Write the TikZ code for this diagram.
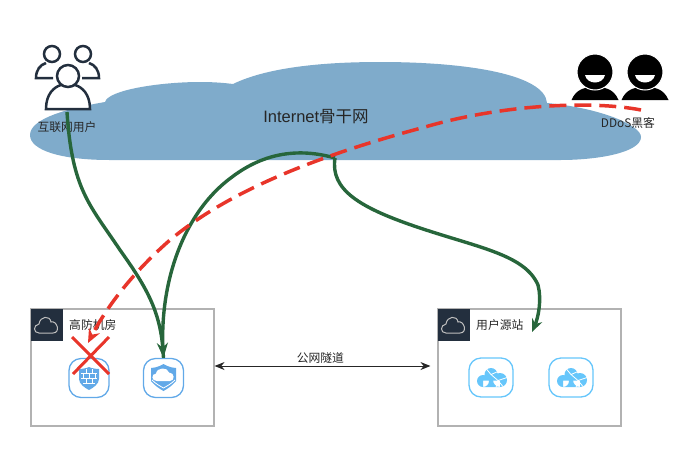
\documentclass[tikz,border=0pt]{standalone}
\usepackage{fontspec}
\setmainfont{Liberation Sans}
\newfontfamily\cjk{Noto Sans CJK SC}
\usetikzlibrary{arrows.meta}
\definecolor{cloudblue}{HTML}{7FABCB}
\definecolor{darknavy}{HTML}{232F3E}
\definecolor{pathgreen}{HTML}{27663B}
\definecolor{attackred}{HTML}{E8352A}
\definecolor{shieldblue}{HTML}{62A9E8}
\definecolor{skyblue}{HTML}{66C6FB}
\tikzset{
    labeltext/.style={font=\fontsize{11.8}{13}\selectfont\cjk, text=black!85, inner sep=0pt},
    areabox/.style={draw=black!30, line width=1.1pt, minimum width=183pt, minimum height=117pt, inner sep=0pt},
    headbox/.style={fill=darknavy, minimum size=32pt, inner sep=0pt},
    iconbox/.style={draw, line width=1.3pt, rounded corners=12pt, minimum width=40pt, minimum height=39pt, inner sep=0pt},
    greenpath/.style={draw=pathgreen, line width=3.4pt},
    redpath/.style={draw=attackred, line width=3.5pt, dash pattern=on 17pt off 8pt},
    outlinecloud/.pic={
        \draw[white!75!black, line width=1pt] (-8,8) .. controls (-14,8) and (-14,0) .. (-8,-1)
            .. controls (-7,-9) and (3,-10) .. (4,-3) .. controls (10,-5) and (14,8) .. (6,8) -- cycle;
    },
    backuser/.pic={
        \draw[darknavy, line width=2.5pt] (0,0) circle (8);
        \draw[darknavy, line width=2.5pt] (#1,24) -- (-16*#1,24) .. controls (-16*#1,16) and (-12*#1,11) .. (-6*#1,9);
    },
    smiler/.pic={
        \fill[black] (-23.5,28) .. controls (-19,17) and (-10,15) .. (0,15) .. controls (10,15) and (19,17) .. (23.5,28) -- cycle;
        \draw[white, fill=black, line width=1pt] (0,0) circle (18);
        \fill[white] (-10,3) -- (10,3) .. controls (8,13) and (-8,13) .. (-10,3) -- cycle;
    },
    bluecloud/.pic={
        \fill[skyblue] (-8,3.5) circle (6) (0,-3) circle (6.5) (9,2.5) circle (7) (-8,3) rectangle (9,9.5);
        \draw[white, line width=0.8pt] (-5,-9) -- (0,-3) -- (7,-6) (0,-3) -- (7,3) -- (16,0) (7,3) -- (5,10) (7,3) -- (12,9);
    },
}
\begin{document}
\begin{tikzpicture}[x=1pt, y=-1pt]
    \useasboundingbox (0,0) rectangle (685,456);
    % backbone cloud
    \fill[cloudblue] (110,160) .. controls (60,160) and (30,150) .. (30,135) .. controls (30,118) and (70,108) .. (105,102)
        .. controls (108,90) and (160,82) .. (200,82) .. controls (215,82) and (225,83) .. (233,84)
        .. controls (270,66) and (330,62) .. (380,62) .. controls (470,62) and (545,75) .. (547,103)
        .. controls (600,108) and (641,125) .. (641,137) .. controls (641,152) and (600,160) .. (560,160) -- cycle;
    \node[font=\fontsize{16.5}{18}\selectfont, text=black!85, inner sep=0pt] (backbone) at (316,117) {Internet{\cjk 骨干网}};
    \node[labeltext] (userlabel) at (67,127) {互联网用户};
    \node[labeltext] (hackerlabel) at (628,123) {DDoS黑客};
    % people
    \pic at (52,54) {backuser=1};
    \pic at (83,54) {backuser=-1};
    \draw[darknavy, line width=2.5pt, fill=white] (46,109) .. controls (46,94) and (54,87) .. (61,85) -- (75,85)
        .. controls (82,87) and (90,94) .. (90,109) -- cycle;
    \draw[darknavy, line width=2.5pt, fill=white] (68,76) circle (11);
    \pic at (595,72) {smiler};
    \pic at (645,72) {smiler};
    % rooms
    \node[areabox] (gfroom) at (122.5,367.5) {};
    \node[areabox] (srcroom) at (529.5,367.5) {};
    \node[headbox] (gfhead) at (47,325) {};
    \node[headbox] (srchead) at (454,325) {};
    \pic at (gfhead) {outlinecloud};
    \pic at (srchead) {outlinecloud};
    \node[labeltext, right=0pt] (gflabel) at (69,325) {高防机房};
    \node[labeltext, right=0pt] (srclabel) at (476,325) {用户源站};
    \draw[{Stealth[length=10pt, width=8pt]}-{Stealth[length=10pt, width=8pt]}, line width=1pt, black!85, shorten >=7pt] (gfroom.east) ++(0,-1.5)
        -- node[labeltext, above=2pt, pos=0.475] (tunnel) {公网隧道} (srcroom.west |- 0,366);
    % icons
    \node[iconbox, draw=shieldblue] (firewall) at (89,378) {};
    \node[iconbox, draw=shieldblue] (shield) at (163.5,378) {};
    \node[iconbox, draw=skyblue, minimum width=44pt] (srcone) at (491,377.5) {};
    \node[iconbox, draw=skyblue, minimum width=44pt] (srctwo) at (571,377.5) {};
    \fill[shieldblue] (79,369) .. controls (85,369) and (89,367) .. (89,367) .. controls (89,367) and (93,369) .. (99,369)
        -- (99,379) .. controls (99,384) and (93,388) .. (89,390) .. controls (85,388) and (79,384) .. (79,379) -- cycle;
    \draw[white, line width=0.8pt] (81,373) -- (97,373) (81,378) -- (97,378) (83,383) -- (95,383)
        (86,369) -- (86,373) (92,369) -- (92,373) (83,373) -- (83,378) (89,373) -- (89,378) (95,373) -- (95,378)
        (86,378) -- (86,383) (92,378) -- (92,383);
    \fill[shieldblue] (151,368) .. controls (157,368) and (163.5,364) .. (163.5,364) .. controls (163.5,364) and (170,368) .. (176,368)
        -- (176,381) .. controls (172,386) and (167,389) .. (163.5,391) .. controls (160,389) and (155,386) .. (151,381) -- cycle;
    \draw[white, line width=0.8pt] (152,380) .. controls (156,384) and (160,386) .. (163.5,388) .. controls (167,386) and (171,384) .. (175,380);
    \fill[white] (157,381) .. controls (151,381) and (151,374) .. (156,373.5) .. controls (157,367) and (168,367) .. (169,372.5)
        .. controls (175,372.5) and (175,381) .. (170,381) -- cycle;
    \pic at (srcone) {bluecloud};
    \pic at (srctwo) {bluecloud};
    % traffic
    \coordinate (usrstart) at (67,112);
    \coordinate (backhop) at (335,158);
    \coordinate (srcin) at (532,332);
    \coordinate (hackstart) at (641,110);
    \coordinate (gfin) at (88,343);
    \draw[greenpath] (shield.north) .. controls (158,290) and (180,215) .. (232,177) .. controls (265,152) and (300,148) .. (backhop);
    \draw[greenpath, -{Stealth[length=15pt, width=11pt]}] (usrstart) .. controls (72,190) and (90,205) .. (120,250)
        .. controls (145,285) and (160,310) .. (shield.north);
    \draw[greenpath, -{Stealth[length=13pt, width=11pt]}] (backhop) .. controls (330,190) and (360,208) .. (420,228)
        .. controls (480,248) and (525,255) .. (538,285) .. controls (542,300) and (538,318) .. (srcin);
    \draw[redpath, -{Stealth[length=14pt, width=12pt]}] (hackstart) .. controls (590,100) and (500,105) .. (425,127)
        .. controls (320,155) and (230,190) .. (170,240) .. controls (130,275) and (105,310) .. (gfin);
    \draw[attackred, line width=3pt] (72,337) -- (109,374) (109,337) -- (73,374);
\end{tikzpicture}
\end{document}
